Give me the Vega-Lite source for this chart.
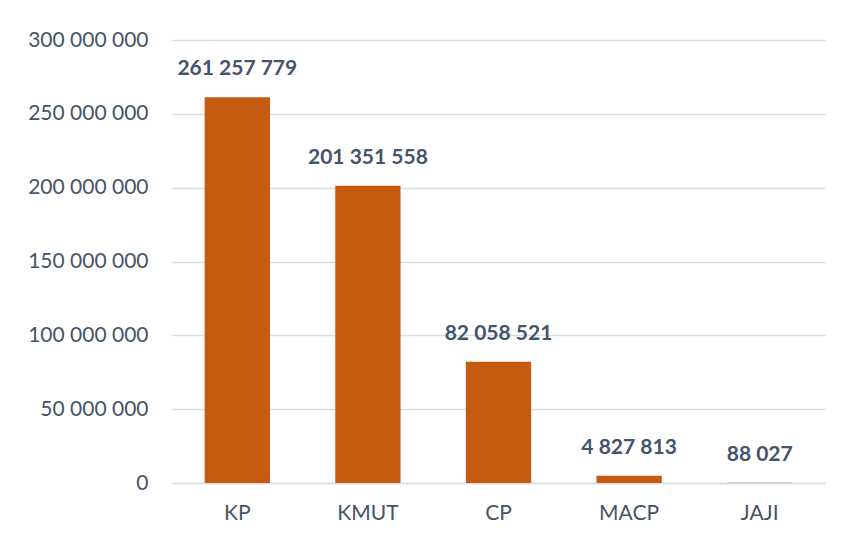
{
  "$schema": "https://vega.github.io/schema/vega-lite/v6.json",
  "autosize": "none",
  "width": 653,
  "height": 443,
  "padding": {"left": 172, "top": 40, "right": 16, "bottom": 54},
  "background": "#ffffff",
  "config": {
    "locale": {"number": {"decimal": ",", "thousands": " ", "grouping": [3], "currency": ["", ""]}},
    "view": {"stroke": null},
    "font": "Lato"
  },
  "data": {
    "values": [
      {"category": "KP", "value": 261257779},
      {"category": "KMUT", "value": 201351558},
      {"category": "CP", "value": 82058521},
      {"category": "MACP", "value": 4827813},
      {"category": "JAJI", "value": 88027}
    ]
  },
  "encoding": {
    "x": {
      "field": "category",
      "type": "nominal",
      "sort": null,
      "title": null,
      "scale": {"paddingInner": 0.5, "paddingOuter": 0.25},
      "axis": {
        "labelAngle": 0,
        "labelFont": "Lato",
        "labelFontSize": 21,
        "labelColor": "#465467",
        "labelPadding": 19,
        "ticks": false,
        "domainColor": "#D9DEE5",
        "domainWidth": 1.5
      }
    },
    "y": {
      "field": "value",
      "type": "quantitative",
      "title": null,
      "scale": {"domain": [0, 300000000]},
      "axis": {
        "values": [0, 50000000, 100000000, 150000000, 200000000, 250000000, 300000000],
        "format": ",d",
        "labelFont": "Lato",
        "labelFontSize": 21,
        "labelColor": "#465467",
        "labelPadding": 24,
        "ticks": false,
        "domain": false,
        "gridColor": "#D9DEE5",
        "gridWidth": 1.5
      }
    }
  },
  "layer": [
    {"mark": {"type": "bar", "color": "#C55A11"}},
    {
      "mark": {"type": "text", "baseline": "bottom", "dy": -18, "font": "Lato", "fontSize": 21, "fontWeight": "bold", "color": "#44546A"},
      "encoding": {"text": {"field": "value", "type": "quantitative", "format": ",d"}}
    }
  ]
}
